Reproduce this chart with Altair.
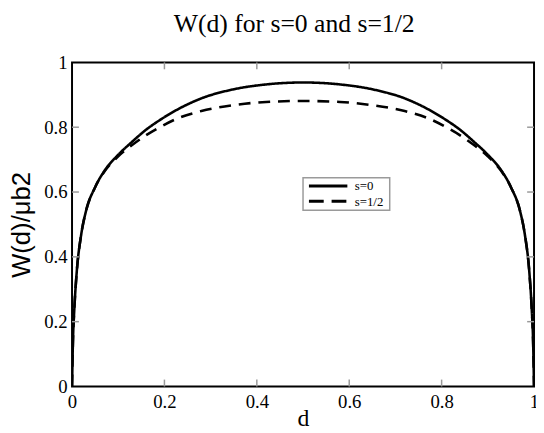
import altair as alt
import pandas as pd

# Values
d_vals = [0, 0.002, 0.005, 0.01, 0.02, 0.03, 0.05, 0.07, 0.10, 0.13, 0.16, 0.19, 0.23, 0.28, 0.35, 0.42, 0.50,
          0.58, 0.65, 0.72, 0.77, 0.81, 0.84, 0.87, 0.90, 0.93, 0.95, 0.97, 0.98, 0.99, 0.995, 0.998, 1.0]
w_s0 = [0, 0.14, 0.24, 0.35, 0.47, 0.54, 0.615, 0.665, 0.715, 0.755, 0.792, 0.822, 0.856, 0.889, 0.917, 0.932, 0.938,
        0.932, 0.917, 0.889, 0.856, 0.822, 0.792, 0.755, 0.715, 0.665, 0.615, 0.54, 0.47, 0.35, 0.24, 0.14, 0]
w_s12 = [0, 0.14, 0.24, 0.35, 0.47, 0.54, 0.615, 0.663, 0.71, 0.745, 0.775, 0.80, 0.828, 0.85, 0.868, 0.878, 0.881,
         0.878, 0.868, 0.85, 0.828, 0.80, 0.775, 0.745, 0.71, 0.663, 0.615, 0.54, 0.47, 0.35, 0.24, 0.14, 0]
series_names = ["s=0", "s=1/2"]
axis_values = [0, 0.2, 0.4, 0.6, 0.8, 1]
x_ticks = [0.2, 0.4, 0.6, 0.8]
y_ticks = [0.2, 0.4, 0.6, 0.8]

W, H = 469, 329
SERIF = "Liberation Serif, Times New Roman, Times, serif"
SANS = "Liberation Sans, Arial, sans-serif"

df = pd.concat([
    pd.DataFrame({"d": d_vals, "W": w_s0, "s": series_names[0]}),
    pd.DataFrame({"d": d_vals, "W": w_s12, "s": series_names[1]}),
])

xscale = alt.Scale(domain=[0, 1], nice=False, zero=False)
yscale = alt.Scale(domain=[0, 1], nice=False, zero=False)

x_axis = alt.Axis(title="d", values=axis_values, format="~g", ticks=False, domain=False,
                  grid=False, labelFont=SERIF, labelFontSize=19, labelColor="black",
                  labelPadding=6, titleFont=SERIF, titleFontSize=24, titleFontWeight="normal",
                  titleColor="black", titleBaseline="alphabetic", titleY=40, labelFlush=False)
y_axis = alt.Axis(title="W(d)/μb2", values=axis_values, format="~g", ticks=False,
                  domain=False, grid=False, labelFont=SERIF, labelFontSize=19,
                  labelColor="black", labelPadding=5, titleFont=SANS, titleFontSize=26,
                  titleFontWeight="normal", titleColor="black", titlePadding=9, labelFlush=False)

lines = alt.Chart(df).mark_line(color="black", strokeWidth=2.6, interpolate="monotone", clip=True).encode(
    x=alt.X("d:Q", scale=xscale, axis=x_axis),
    y=alt.Y("W:Q", scale=yscale, axis=y_axis),
    strokeDash=alt.StrokeDash("s:N", scale=alt.Scale(domain=series_names, range=[[1, 0], [12, 8]]),
                              legend=None),
)

tx = pd.DataFrame({"t": x_ticks})
ty = pd.DataFrame({"t": y_ticks})
tick_color = "#9a9a9a"
bottom_ticks = alt.Chart(tx).mark_rule(color=tick_color, strokeWidth=1.5).encode(
    x=alt.X("t:Q", scale=xscale, axis=x_axis), y=alt.value(H), y2=alt.value(H - 7))
top_ticks = alt.Chart(tx).mark_rule(color=tick_color, strokeWidth=1.5).encode(
    x=alt.X("t:Q", scale=xscale, axis=x_axis), y=alt.value(0), y2=alt.value(7))
left_ticks = alt.Chart(ty).mark_rule(color=tick_color, strokeWidth=1.5).encode(
    y=alt.Y("t:Q", scale=yscale, axis=y_axis), x=alt.value(0), x2=alt.value(7))
right_ticks = alt.Chart(ty).mark_rule(color=tick_color, strokeWidth=1.5).encode(
    y=alt.Y("t:Q", scale=yscale, axis=y_axis), x=alt.value(W), x2=alt.value(W - 7))

# manual legend box
box_df = pd.DataFrame({"k": [0]})
leg_box = alt.Chart(box_df).mark_rect(fill="white", stroke="#9a9a9a", strokeWidth=1.5).encode(
    x=alt.value(234.5), x2=alt.value(322.5), y=alt.value(117), y2=alt.value(150))
leg_parts = []
for name, yy, dash in [(series_names[0], 125.5, [1, 0]), (series_names[1], 141, [15, 8])]:
    row = pd.DataFrame({"s": [name]})
    leg_parts.append(alt.Chart(row).mark_rule(color="black", strokeWidth=3, strokeDash=dash).encode(
        x=alt.value(240.5), x2=alt.value(279.5), y=alt.value(yy)))
    leg_parts.append(alt.Chart(row).mark_text(font=SERIF, fontSize=13, color="black", align="left",
                                              baseline="middle").encode(
        x=alt.value(287), y=alt.value(yy + 0.5), text="s:N"))

chart = alt.layer(lines, bottom_ticks, top_ticks, left_ticks, right_ticks, leg_box, *leg_parts).properties(
    width=W, height=H,
    title=alt.TitleParams("W(d) for s=0 and s=1/2", font=SERIF, fontSize=26,
                          fontWeight="normal", color="black", anchor="middle", offset=17, dx=-9),
    autosize=alt.AutoSizeParams(type="none"),
    padding={"left": 65, "top": 52, "right": 2, "bottom": 44},
).configure_view(stroke="black", strokeWidth=2).configure_title(font=SERIF)

chart.save("out.html", embed_options={"renderer": "svg", "actions": False})
